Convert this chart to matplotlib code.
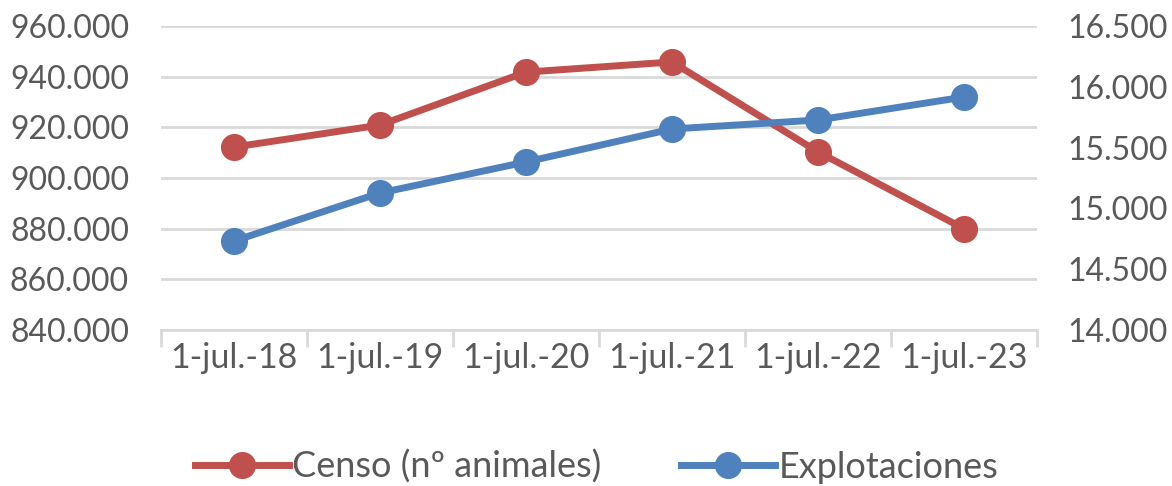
import numpy as np
import matplotlib.pyplot as plt
from matplotlib.ticker import FuncFormatter, FixedLocator

plt.rcParams['font.family'] = ['Lato', 'DejaVu Sans']

fechas = ['1-jul.-18', '1-jul.-19', '1-jul.-20', '1-jul.-21', '1-jul.-22', '1-jul.-23']
censo = [912200, 920900, 941800, 945800, 910300, 880000]
explotaciones = [14732, 15127, 15382, 15653, 15727, 15916]

rojo = '#C0504D'
azul = '#4F81BD'
gris_txt = '#595959'
gris_lin = '#D9D9D9'


def miles(v, pos):
    return '{:,.0f}'.format(v).replace(',', '.')


fig = plt.figure(figsize=(11.72, 4.86), dpi=100)
ax = fig.add_axes([0.1374, 0.321, 0.7474, 0.6255])
ax2 = ax.twinx()

x = np.arange(len(fechas))
l1, = ax.plot(x, censo, color=rojo, lw=5, marker='o', ms=18.5, zorder=3,
              label='Censo (nº animales)')
l2, = ax2.plot(x, explotaciones, color=azul, lw=5, marker='o', ms=18.5, zorder=3,
               label='Explotaciones')

ax.set_xlim(-0.5, 5.5)
ax.set_ylim(840000, 960000)
ax.set_yticks(np.arange(840000, 960001, 20000))
ax2.set_ylim(14000, 16500)
ax2.set_yticks(np.arange(14000, 16501, 500))
ax.yaxis.set_major_formatter(FuncFormatter(miles))
ax2.yaxis.set_major_formatter(FuncFormatter(miles))

ax.set_xticks(x)
ax.set_xticklabels(fechas)
ax.xaxis.set_minor_locator(FixedLocator(np.arange(-0.5, 5.6, 1)))
ax.tick_params(axis='x', which='major', length=0, pad=9, labelsize=24.5, labelcolor=gris_txt)
ax.tick_params(axis='x', which='minor', length=12, width=2, color=gris_lin)
ax.tick_params(axis='y', length=0, pad=23, labelsize=23, labelcolor=gris_txt)
ax2.tick_params(axis='y', length=0, pad=22, labelsize=23, labelcolor=gris_txt)

ax.grid(axis='y', color=gris_lin, lw=2)
ax.set_axisbelow(True)
for a in (ax, ax2):
    for s in ('top', 'left', 'right', 'bottom'):
        a.spines[s].set_visible(False)
ax.spines['bottom'].set_visible(True)
ax.spines['bottom'].set_color(gris_lin)
ax.spines['bottom'].set_linewidth(2)

fig.legend(handles=[l1, l2], loc='center', bbox_to_anchor=(0.509, 0.04), ncol=2,
           frameon=False, fontsize=26, labelcolor=gris_txt, handlelength=2.6,
           columnspacing=2.2, handletextpad=0.1)

fig.savefig('out.png', dpi=100)
